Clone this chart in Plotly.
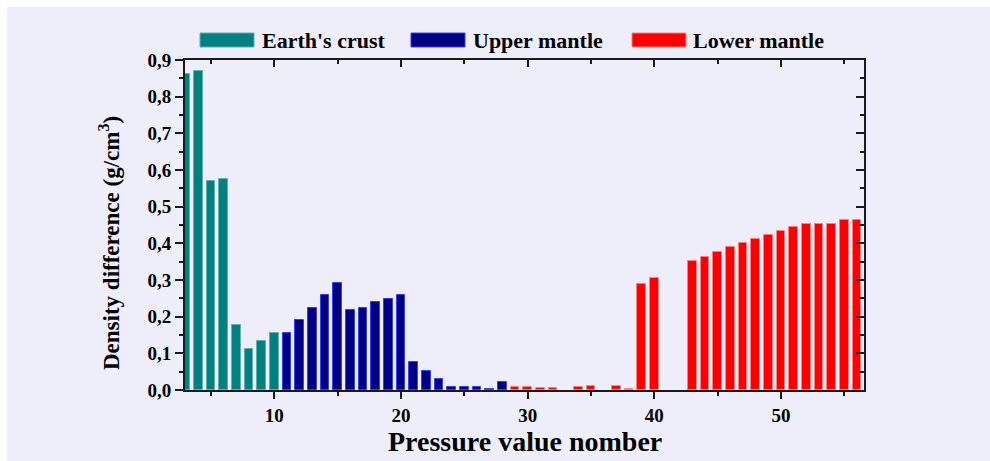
import plotly.graph_objects as go

# Density difference per pressure value number, grouped by layer
crust_x = [3, 4, 5, 6, 7, 8, 9, 10]
crust_y = [0.861, 0.870, 0.569, 0.576, 0.177, 0.113, 0.134, 0.155]

upper_x = list(range(11, 29))
upper_y = [0.155, 0.190, 0.225, 0.260, 0.293, 0.217, 0.225, 0.239, 0.248,
           0.258, 0.077, 0.053, 0.030, 0.008, 0.008, 0.008, 0.004, 0.022]

lower_x = list(range(29, 57))
lower_y = [0.007, 0.007, 0.006, 0.006, None, 0.007, 0.011, None, 0.011, 0.004,
           0.290, 0.306, None, None, 0.352, 0.364, 0.377, 0.390, 0.402, 0.413,
           0.424, 0.434, 0.444, 0.452, 0.452, 0.454, 0.464, 0.465]

series_names = ["Earth's crust", "Upper mantle", "Lower mantle"]
fill_colors = ["#008080", "#000080", "#FF0000"]
edge_colors = ["#5fb0ae", "#3c3cff", "#ff8080"]

x_range = [2.95, 56.55]
y_range = [0, 0.9]

FONT = "Liberation Serif, Times New Roman, serif"
BG = "#EEEEFA"
AXIS = "#1a1a1a"

W, H = 990, 461
L, R, T, B = 185, 126, 60, 71
PW, PH = W - L - R, H - T - B


def px(xp):
    return (xp - L) / PW


def py(yp):
    return (H - B - yp) / PH


fig = go.Figure()
for name, xs, ys, fc, ec in zip(series_names, [crust_x, upper_x, lower_x],
                                [crust_y, upper_y, lower_y], fill_colors, edge_colors):
    fig.add_trace(go.Bar(x=xs, y=ys, name=name, width=0.68,
                         marker=dict(color=fc, line=dict(color=ec, width=1)),
                         showlegend=False))

# empty trace carrying the mirrored top/right axes
fig.add_trace(go.Scatter(x=[None], y=[None], xaxis="x2", yaxis="y2",
                         showlegend=False, hoverinfo="skip"))

tickfont = dict(family=FONT, size=19, color="black", weight="bold")

fig.update_layout(
    width=W, height=H,
    margin=dict(l=L, r=R, t=T, b=B),
    paper_bgcolor="white",
    plot_bgcolor=BG,
    separators=", ",
    bargap=0,
    xaxis=dict(range=x_range, tick0=0, dtick=10, ticks="outside", ticklen=7,
               tickwidth=1.5, tickcolor=AXIS,
               minor=dict(dtick=5, tick0=0, ticks="outside", ticklen=4,
                          tickwidth=1.5, tickcolor=AXIS),
               showline=True, linecolor=AXIS, linewidth=1.5, showgrid=False,
               zeroline=False, tickfont=tickfont),
    yaxis=dict(range=y_range, tick0=0, dtick=0.1, tickformat=".1f",
               ticks="outside", ticklen=8, tickwidth=1.5, tickcolor=AXIS,
               minor=dict(dtick=0.05, ticks="outside", ticklen=4,
                          tickwidth=1.5, tickcolor=AXIS),
               showline=True, linecolor=AXIS, linewidth=2, showgrid=False,
               zeroline=False, tickfont=tickfont),
    xaxis2=dict(range=x_range, overlaying="x", side="top", anchor="y2",
                tick0=0, dtick=10, ticks="inside", ticklen=7, tickwidth=1.5,
                tickcolor=AXIS,
                minor=dict(dtick=5, tick0=0, ticks="inside", ticklen=4,
                           tickwidth=1.5, tickcolor=AXIS),
                showticklabels=False, showline=True, linecolor=AXIS,
                linewidth=1.5, showgrid=False, zeroline=False),
    yaxis2=dict(range=y_range, overlaying="y", side="right", anchor="x2",
                tick0=0, dtick=0.1, ticks="inside", ticklen=8, tickwidth=1.5,
                tickcolor=AXIS,
                minor=dict(dtick=0.05, ticks="inside", ticklen=4,
                           tickwidth=1.5, tickcolor=AXIS),
                showticklabels=False, showline=True, linecolor=AXIS,
                linewidth=1.5, showgrid=False, zeroline=False),
)

shapes = [
    # lavender panel behind the whole chart
    dict(type="rect", xref="paper", yref="paper", layer="below",
         x0=px(7), x1=px(W + 5), y0=py(H + 5), y1=py(7),
         fillcolor=BG, line=dict(width=0)),
]
annotations = []

# legend row across the top
swatch_x = [200, 411, 632]
text_x = [260, 471, 691]
for name, fc, ec, sx, tx in zip(series_names, fill_colors, edge_colors, swatch_x, text_x):
    shapes.append(dict(type="rect", xref="paper", yref="paper",
                       x0=px(sx), x1=px(sx + 54), y0=py(47), y1=py(33),
                       fillcolor=fc, line=dict(color=ec, width=1)))
    annotations.append(dict(xref="paper", yref="paper", x=px(tx), y=py(40.5),
                            xanchor="left", yanchor="middle", showarrow=False,
                            text=name,
                            font=dict(family=FONT, size=22, color="black",
                                      weight="bold")))

annotations.append(dict(xref="paper", yref="paper", x=px(525), y=py(442),
                        xanchor="center", yanchor="middle", showarrow=False,
                        text="Pressure value nomber",
                        font=dict(family=FONT, size=28, color="black",
                                  weight="bold")))
annotations.append(dict(xref="paper", yref="paper", x=px(109), y=py(243),
                        xanchor="center", yanchor="middle", showarrow=False,
                        textangle=-90,
                        text="Density difference (g/cm<sup>3</sup>)",
                        font=dict(family=FONT, size=23, color="black",
                                  weight="bold")))

fig.update_layout(shapes=shapes, annotations=annotations)

fig.write_html("out.html")
